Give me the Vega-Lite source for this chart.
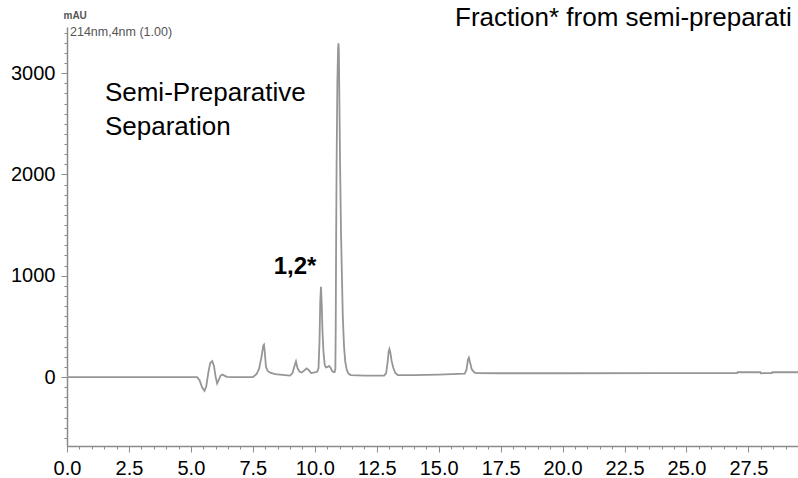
{
  "$schema": "https://vega.github.io/schema/vega-lite/v6.json",
  "autosize": "none",
  "width": 731,
  "height": 419,
  "padding": {"left": 67, "top": 27, "right": 0, "bottom": 32},
  "background": "white",
  "config": {
    "view": {"stroke": null},
    "font": "Liberation Sans",
    "axis": {
      "grid": false,
      "domainColor": "#8c8c8c",
      "domainWidth": 1.5,
      "tickColor": "#8c8c8c",
      "tickWidth": 1,
      "labelFont": "Liberation Sans",
      "labelColor": "#000000",
      "labelFontSize": 20,
      "labelFlush": false
    }
  },
  "datasets": {
    "trace": [
      {"t": 0, "mAU": 0}, {"t": 2.5, "mAU": 0}, {"t": 5.0, "mAU": 0}, {"t": 5.25, "mAU": 0},
      {"t": 5.35, "mAU": -30}, {"t": 5.45, "mAU": -100}, {"t": 5.55, "mAU": -135}, {"t": 5.62, "mAU": -90},
      {"t": 5.70, "mAU": 40}, {"t": 5.78, "mAU": 140}, {"t": 5.86, "mAU": 158}, {"t": 5.93, "mAU": 110},
      {"t": 6.0, "mAU": 0}, {"t": 6.06, "mAU": -62}, {"t": 6.12, "mAU": -30}, {"t": 6.2, "mAU": 15},
      {"t": 6.27, "mAU": 25}, {"t": 6.35, "mAU": 15}, {"t": 6.45, "mAU": 3}, {"t": 6.7, "mAU": 0},
      {"t": 7.5, "mAU": 0}, {"t": 7.65, "mAU": 30}, {"t": 7.75, "mAU": 80}, {"t": 7.85, "mAU": 200},
      {"t": 7.92, "mAU": 310}, {"t": 7.95, "mAU": 320}, {"t": 7.98, "mAU": 250}, {"t": 8.03, "mAU": 100},
      {"t": 8.1, "mAU": 60}, {"t": 8.2, "mAU": 43}, {"t": 8.4, "mAU": 30}, {"t": 8.7, "mAU": 22},
      {"t": 9.0, "mAU": 15}, {"t": 9.1, "mAU": 40}, {"t": 9.18, "mAU": 110}, {"t": 9.24, "mAU": 155},
      {"t": 9.3, "mAU": 90}, {"t": 9.38, "mAU": 55}, {"t": 9.47, "mAU": 45}, {"t": 9.55, "mAU": 60},
      {"t": 9.67, "mAU": 86}, {"t": 9.75, "mAU": 70}, {"t": 9.85, "mAU": 40}, {"t": 9.95, "mAU": 45},
      {"t": 10.05, "mAU": 50}, {"t": 10.10, "mAU": 55}, {"t": 10.15, "mAU": 90}, {"t": 10.19, "mAU": 350},
      {"t": 10.22, "mAU": 750}, {"t": 10.25, "mAU": 891}, {"t": 10.28, "mAU": 720}, {"t": 10.31, "mAU": 450},
      {"t": 10.35, "mAU": 250}, {"t": 10.40, "mAU": 120}, {"t": 10.45, "mAU": 95}, {"t": 10.52, "mAU": 100},
      {"t": 10.58, "mAU": 110}, {"t": 10.63, "mAU": 95}, {"t": 10.70, "mAU": 60}, {"t": 10.76, "mAU": 50},
      {"t": 10.80, "mAU": 50}, {"t": 10.83, "mAU": 80}, {"t": 10.845, "mAU": 500}, {"t": 10.86, "mAU": 1300},
      {"t": 10.88, "mAU": 2100}, {"t": 10.91, "mAU": 2900}, {"t": 10.94, "mAU": 3250}, {"t": 10.955, "mAU": 3295},
      {"t": 10.97, "mAU": 3230}, {"t": 10.99, "mAU": 2800}, {"t": 11.02, "mAU": 2100}, {"t": 11.06, "mAU": 1400},
      {"t": 11.09, "mAU": 1050}, {"t": 11.13, "mAU": 600}, {"t": 11.18, "mAU": 300}, {"t": 11.23, "mAU": 150},
      {"t": 11.29, "mAU": 70}, {"t": 11.36, "mAU": 35}, {"t": 11.45, "mAU": 20}, {"t": 12.0, "mAU": 15},
      {"t": 12.5, "mAU": 15}, {"t": 12.80, "mAU": 15}, {"t": 12.88, "mAU": 40}, {"t": 12.94, "mAU": 150},
      {"t": 12.98, "mAU": 250}, {"t": 13.01, "mAU": 276}, {"t": 13.05, "mAU": 240}, {"t": 13.10, "mAU": 160},
      {"t": 13.17, "mAU": 90}, {"t": 13.25, "mAU": 40}, {"t": 13.35, "mAU": 20}, {"t": 14.0, "mAU": 20},
      {"t": 15.0, "mAU": 25}, {"t": 16.05, "mAU": 35}, {"t": 16.12, "mAU": 70}, {"t": 16.18, "mAU": 170},
      {"t": 16.22, "mAU": 191}, {"t": 16.27, "mAU": 140}, {"t": 16.33, "mAU": 80}, {"t": 16.42, "mAU": 50},
      {"t": 16.5, "mAU": 40}, {"t": 17.5, "mAU": 38}, {"t": 20.0, "mAU": 38}, {"t": 24.0, "mAU": 40},
      {"t": 27.04, "mAU": 40}, {"t": 27.06, "mAU": 48}, {"t": 27.98, "mAU": 48}, {"t": 28.0, "mAU": 38},
      {"t": 28.44, "mAU": 40}, {"t": 28.46, "mAU": 48}, {"t": 29.5, "mAU": 48}
    ],
    "notes": [
      {"t": 1.53, "mAU": 2804, "label": "Semi-Preparative"},
      {"t": 1.53, "mAU": 2468, "label": "Separation"},
      {"t": 15.66, "mAU": 3543, "label": "Fraction* from semi-preparati"}
    ],
    "peaks": [
      {"t": 9.2, "mAU": 1086, "label": "1,2*"}
    ],
    "unit": [
      {"t": 0.12, "mAU": 3406, "label": "214nm,4nm (1.00)"}
    ]
  },
  "resolve": {"axis": {"x": "independent", "y": "independent"}},
  "layer": [
    {
      "data": {"name": "trace"},
      "mark": {"type": "line", "color": "#969696", "strokeWidth": 1.8, "interpolate": "linear"},
      "encoding": {
        "x": {
          "field": "t", "type": "quantitative",
          "scale": {"domain": [0, 29.5], "nice": false, "zero": false},
          "axis": {
            "orient": "bottom",
            "title": null,
            "values": [0, 2.5, 5, 7.5, 10, 12.5, 15, 17.5, 20, 22.5, 25, 27.5],
            "format": ".1f",
            "labelOverlap": false,
            "tickSize": 6,
            "labelPadding": 6
          }
        },
        "y": {
          "field": "mAU", "type": "quantitative",
          "scale": {"domain": [-680, 3455], "nice": false, "zero": false},
          "axis": {
            "orient": "left",
            "title": "mAU",
            "titleAngle": 0,
            "titleAlign": "left",
            "titleBaseline": "middle",
            "titleX": -4,
            "titleY": -12,
            "titleFontSize": 10,
            "titleFontWeight": "bold",
            "titleColor": "#555555",
            "values": [0, 1000, 2000, 3000],
            "format": "d",
            "labelOverlap": false,
            "tickSize": 6,
            "labelPadding": 6
          }
        }
      }
    },
    {
      "data": {"name": "notes"},
      "mark": {"type": "text", "align": "left", "baseline": "middle", "fontSize": 26, "color": "#000000", "font": "Liberation Sans"},
      "encoding": {
        "x": {
          "field": "t", "type": "quantitative",
          "axis": {
            "orient": "bottom",
            "title": null,
            "domain": false,
            "labels": false,
            "tickSize": 3,
            "values": [0,0.5,1,1.5,2,2.5,3,3.5,4,4.5,5,5.5,6,6.5,7,7.5,8,8.5,9,9.5,10,10.5,11,11.5,12,12.5,13,13.5,14,14.5,15,15.5,16,16.5,17,17.5,18,18.5,19,19.5,20,20.5,21,21.5,22,22.5,23,23.5,24,24.5,25,25.5,26,26.5,27,27.5,28,28.5,29,29.5]
          }
        },
        "y": {
          "field": "mAU", "type": "quantitative",
          "axis": {
            "orient": "left",
            "title": null,
            "domain": false,
            "labels": false,
            "tickSize": 3,
            "values": [-600,-500,-400,-300,-200,-100,0,100,200,300,400,500,600,700,800,900,1000,1100,1200,1300,1400,1500,1600,1700,1800,1900,2000,2100,2200,2300,2400,2500,2600,2700,2800,2900,3000,3100,3200,3300,3400]
          }
        },
        "text": {"field": "label"}
      }
    },
    {
      "data": {"name": "peaks"},
      "mark": {"type": "text", "align": "center", "baseline": "middle", "fontSize": 24, "fontWeight": "bold", "color": "#000000", "font": "Liberation Sans"},
      "encoding": {
        "x": {"field": "t", "type": "quantitative", "axis": null},
        "y": {"field": "mAU", "type": "quantitative", "axis": null},
        "text": {"field": "label"}
      }
    },
    {
      "data": {"name": "unit"},
      "mark": {"type": "text", "align": "left", "baseline": "middle", "fontSize": 12.5, "color": "#555555", "font": "Liberation Sans"},
      "encoding": {
        "x": {"field": "t", "type": "quantitative", "axis": null},
        "y": {"field": "mAU", "type": "quantitative", "axis": null},
        "text": {"field": "label"}
      }
    }
  ]
}
